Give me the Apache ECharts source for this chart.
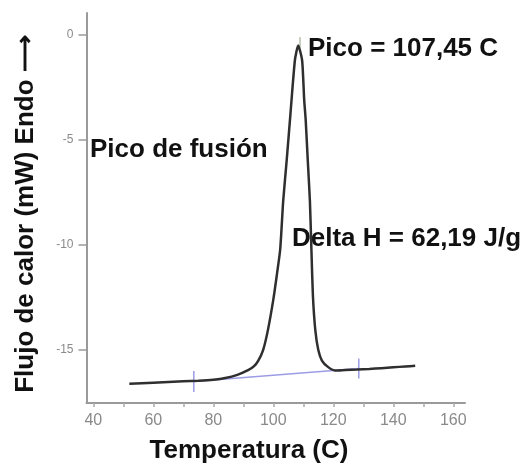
<!DOCTYPE html>
<html>
<head>
<meta charset="utf-8">
<script src="https://cdn.jsdelivr.net/npm/echarts@6/dist/echarts.min.js"></script>
<style>
html,body{margin:0;padding:0;background:#fff;}
#c{width:529px;height:464px;}
</style>
</head>
<body>
<div id="c"></div>
<script>
// Temperatures (C) and heat flow (mW) of the DSC curve
const temps = [52, 60, 70, 75, 80, 84, 88, 91.6, 93.5, 95, 96.6, 98.2, 100, 101.2, 102.3, 103.3, 104.5, 105.8, 107.2, 108.3, 109.6, 110.3, 110.8, 111.5, 112.2, 112.7, 113.2, 114, 115, 116.2, 118.2, 120.5, 124, 128, 132, 136, 140, 144, 147.3];
const flow  = [-16.6, -16.55, -16.49, -16.46, -16.41, -16.33, -16.18, -15.96, -15.78, -15.5, -15.0, -14.05, -12.6, -11.4, -10.2, -7.9, -5.9, -3.6, -1.2, -0.5, -1.2, -3.1, -4.05, -6.0, -7.9, -10.2, -12.4, -14.05, -15.0, -15.5, -15.8, -15.97, -15.95, -15.93, -15.9, -15.86, -15.82, -15.78, -15.75];
// Integration baseline
const baseT = [73.5, 128.5];
const baseF = [-16.5, -15.88];
// Baseline end markers
const markLeftF = [-16.0, -17.0];
const markRightF = [-15.4, -16.35];
// Peak marker
const peakT = 108.9;
const peakF = [-0.1, -0.6];
// Tick labels
const xTicks = [40, 60, 80, 100, 120, 140, 160];
const xMinor = [40, 50, 60, 70, 80, 90, 100, 110, 120, 130, 140, 150, 160];
const yTicks = [0, -5, -10, -15];
// Texts
const yTitle = 'Flujo de calor (mW) Endo ⟶';
const xTitle = 'Temperatura (C)';
const notePeak = 'Pico = 107,45 C';
const noteFusion = 'Pico de fusión';
const noteDelta = 'Delta H = 62,19 J/g';

const FONT = '"Liberation Sans", Arial, sans-serif';
const chart = echarts.init(document.getElementById('c'), null, {renderer: 'canvas'});
const curve = temps.map((t, i) => [t, flow[i]]);
const base = baseT.map((t, i) => [t, baseF[i]]);
const blue = '#9c9ce6';
const textStyle = (t, x, y, extra) => Object.assign({
  type: 'text', x: x, y: y, silent: true,
  style: {text: t, font: 'bold 26px ' + FONT, fill: '#111', align: 'left', verticalAlign: 'middle'}
}, extra || {});

chart.setOption({
  animation: false,
  backgroundColor: '#fff',
  grid: {left: 86.5, top: 13, width: 378.5, height: 390, containLabel: false},
  xAxis: {
    type: 'value', min: 37.73, max: 163.9,
    axisLine: {show: true, onZero: false, lineStyle: {color: '#9a9a9a', width: 2}},
    axisTick: {show: true, customValues: xMinor, length: 4, lineStyle: {color: '#aaa', width: 1.5}},
    axisLabel: {customValues: xTicks, color: '#8a8a8a', fontSize: 16, fontFamily: FONT, margin: 10},
    splitLine: {show: false}
  },
  yAxis: {
    type: 'value', min: -17.52, max: 1.05,
    axisLine: {show: true, onZero: false, lineStyle: {color: '#9a9a9a', width: 2}},
    axisTick: {show: true, customValues: yTicks, length: 8, lineStyle: {color: '#9a9a9a', width: 1.5}},
    axisLabel: {customValues: yTicks, color: '#8a8a8a', fontSize: 12, fontFamily: FONT, margin: 13},
    splitLine: {show: false}
  },
  series: [
    {type: 'line', data: base, symbol: 'none', lineStyle: {color: blue, width: 1.5}, z: 2},
    {type: 'line', data: markLeftF.map(v => [baseT[0], v]), symbol: 'none', lineStyle: {color: blue, width: 1.5}, z: 2},
    {type: 'line', data: markRightF.map(v => [baseT[1], v]), symbol: 'none', lineStyle: {color: blue, width: 1.5}, z: 2},
    {type: 'line', data: peakF.map(v => [peakT, v]), symbol: 'none', lineStyle: {color: '#c8cfc0', width: 2}, z: 2},
    {type: 'line', data: curve, symbol: 'none', smooth: 0.2, lineStyle: {color: '#2f2f2f', width: 2.5}, z: 3}
  ],
  graphic: [
    textStyle(yTitle, 26, 214, {rotation: Math.PI / 2, style: {text: yTitle, font: 'bold 26px ' + FONT, fill: '#111', align: 'center', verticalAlign: 'middle'}}),
    textStyle(xTitle, 249, 451, {style: {text: xTitle, font: 'bold 26px ' + FONT, fill: '#111', align: 'center', verticalAlign: 'middle'}}),
    textStyle(notePeak, 308, 49),
    textStyle(noteFusion, 90, 150),
    textStyle(noteDelta, 292, 239)
  ]
});
</script>
</body>
</html>
